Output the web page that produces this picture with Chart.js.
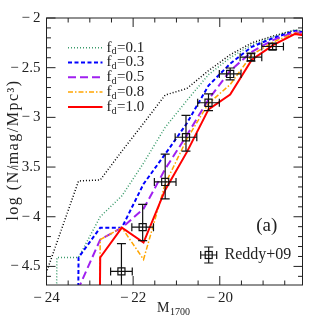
<!DOCTYPE html>
<html>
<head>
<meta charset="utf-8">
<script src="https://cdn.jsdelivr.net/npm/chart.js@4.4.0/dist/chart.umd.min.js"></script>
<style>
  html, body { margin: 0; padding: 0; background: #fff; }
  #wrap { width: 319px; height: 319px; }
</style>
</head>
<body>
<div id="wrap"><canvas id="lf" width="319" height="319"></canvas></div>
<script>
// magnitude bins of the model curves (first/last ones fall outside the frame)
const magBins = [-24.26, -23.76, -23.26, -22.76, -22.26, -21.76, -21.26, -20.76, -20.26, -19.76, -19.26, -18.76, -18.26, -17.76];

// log number density for each model; -30 = no objects in the bin
const lfIntrinsic = [-4.88, -4.26, -3.64, -3.63, -3.34, -3.06, -2.775, -2.71, -2.53, -2.37, -2.25, -2.18, -2.12, -2.17];
const lfFd01 = [-30, -4.41, -4.41, -4.00, -3.79, -3.46, -3.10, -2.83, -2.57, -2.40, -2.27, -2.19, -2.12, -2.16];
const lfFd03 = [-30, -30, -4.41, -4.11, -4.11, -3.67, -3.37, -3.06, -2.68, -2.46, -2.29, -2.20, -2.13, -2.17];
const lfFd05 = [-30, -30, -4.72, -4.23, -4.11, -3.92, -3.52, -3.18, -2.82, -2.53, -2.34, -2.22, -2.14, -2.18];
const lfFd08 = [-30, -30, -30, -4.23, -4.11, -4.43, -3.67, -3.22, -2.86, -2.67, -2.37, -2.24, -2.15, -2.19];
const lfFd10 = [-30, -30, -30, -4.41, -4.11, -4.26, -3.73, -3.35, -2.92, -2.77, -2.42, -2.27, -2.16, -2.20];

// Reddy+09 binned LF
const reddyMag = [-22.27, -21.78, -21.26, -20.78, -20.26, -19.76, -19.28, -18.78];
const reddyLogPhi = [-4.55, -4.105, -3.65, -3.20, -2.853, -2.563, -2.394, -2.287];
const reddyMagErr = [0.25, 0.25, 0.25, 0.25, 0.25, 0.25, 0.25, 0.25];
const reddyErrHi = [0.28, 0.23, 0.28, 0.22, 0.09, 0.06, 0.04, 0.03];
const reddyErrLo = [0.6, 0.135, 0.17, 0.14, 0.08, 0.06, 0.04, 0.03];

const xTicks = [-24, -22, -20];
const yTicks = [-4.5, -4, -3.5, -3, -2.5, -2];
const fdLabels = ['0.1', '0.3', '0.5', '0.8', '1.0'];

const FONT = '"Liberation Serif", "DejaVu Serif", serif';
const INK = '#222';

const pts = ys => magBins.map((m, i) => ({ x: m, y: ys[i] }));
const minus = v => (v < 0 ? '\u2212\u2009' : '') + Math.abs(v);

const model = (data, color, width, dash) => ({
  data: pts(data), showLine: true, pointRadius: 0, fill: false,
  borderColor: color, borderWidth: width, borderDash: dash, tension: 0
});

const fdSets = [
  model(lfFd01, '#3b9b6b', 1.5, [1, 2]),
  model(lfFd03, '#0000ff', 2, [4, 2.5]),
  model(lfFd05, '#a020f0', 2, [8, 4]),
  model(lfFd08, '#ffa500', 1.5, [5, 2, 1.5, 2]),
  model(lfFd10, '#ff0000', 2, [])
];

const reddySet = {
  data: reddyMag.map((m, i) => ({ x: m, y: reddyLogPhi[i] })),
  showLine: false, pointStyle: 'rect', pointRadius: 5,
  borderColor: '#111', backgroundColor: 'rgba(0,0,0,0)', borderWidth: 1.2
};

const errorBars = {
  id: 'errorBars',
  afterDatasetsDraw(chart) {
    const { ctx, chartArea: a, scales: { x, y } } = chart;
    ctx.save();
    ctx.beginPath();
    ctx.rect(a.left, a.top, a.right - a.left, a.bottom - a.top);
    ctx.clip();
    ctx.strokeStyle = '#111';
    ctx.lineWidth = 1.2;
    ctx.beginPath();
    reddyMag.forEach((m, i) => {
      const px = x.getPixelForValue(m), py = y.getPixelForValue(reddyLogPhi[i]);
      const x0 = x.getPixelForValue(m - reddyMagErr[i]), x1 = x.getPixelForValue(m + reddyMagErr[i]);
      const y0 = y.getPixelForValue(reddyLogPhi[i] + reddyErrHi[i]);
      const y1 = y.getPixelForValue(reddyLogPhi[i] - reddyErrLo[i]);
      ctx.moveTo(x0, py); ctx.lineTo(x1, py);
      ctx.moveTo(x0, py - 4); ctx.lineTo(x0, py + 4);
      ctx.moveTo(x1, py - 4); ctx.lineTo(x1, py + 4);
      ctx.moveTo(px, y0); ctx.lineTo(px, y1);
      ctx.moveTo(px - 4.5, y0); ctx.lineTo(px + 4.5, y0);
      ctx.moveTo(px - 4.5, y1); ctx.lineTo(px + 4.5, y1);
    });
    ctx.stroke();
    ctx.restore();
  }
};

// frame with inward ticks, legends and axis titles
const decor = {
  id: 'decor',
  afterDraw(chart) {
    const { ctx, chartArea: a, scales: { x, y } } = chart;
    ctx.save();
    ctx.strokeStyle = INK;
    ctx.lineWidth = 1;
    ctx.strokeRect(a.left, a.top, a.right - a.left, a.bottom - a.top);
    ctx.beginPath();
    for (let k = 0; -24 + k * 0.5 <= x.max; k++) {
      const v = -24 + k * 0.5, p = x.getPixelForValue(v);
      const len = xTicks.includes(v) ? 9 : 4.5;
      ctx.moveTo(p, a.bottom); ctx.lineTo(p, a.bottom - len);
      ctx.moveTo(p, a.top); ctx.lineTo(p, a.top + len);
    }
    for (let k = 0; k <= 26; k++) {
      const v = Math.round((-4.6 + k * 0.1) * 10) / 10, p = y.getPixelForValue(v);
      const len = Number.isInteger(v * 2) ? 9 : 4.5;
      ctx.moveTo(a.left, p); ctx.lineTo(a.left + len, p);
      ctx.moveTo(a.right, p); ctx.lineTo(a.right - len, p);
    }
    ctx.stroke();

    // f_d legend
    ctx.fillStyle = INK;
    ctx.textBaseline = 'middle';
    fdSets.forEach((ds, i) => {
      const cy = 47.7 + i * 14.8;
      ctx.save();
      ctx.strokeStyle = ds.borderColor;
      ctx.lineWidth = ds.borderWidth;
      ctx.setLineDash(ds.borderDash);
      ctx.beginPath(); ctx.moveTo(68, cy); ctx.lineTo(102.5, cy); ctx.stroke();
      ctx.restore();
      let tx = 106.5;
      ctx.font = '15px ' + FONT;
      ctx.fillText('f', tx, cy); tx += ctx.measureText('f').width;
      ctx.font = '10px ' + FONT;
      ctx.fillText('d', tx, cy + 4); tx += ctx.measureText('d').width + 0.5;
      ctx.font = '15px ' + FONT;
      ctx.fillText('=' + fdLabels[i], tx, cy);
    });

    // Reddy+09 legend symbol
    const sx = 208.7, sy = 255;
    ctx.strokeStyle = '#111';
    ctx.lineWidth = 1.2;
    ctx.strokeRect(sx - 3.5, sy - 3.5, 7, 7);
    ctx.beginPath();
    ctx.moveTo(sx - 8, sy); ctx.lineTo(sx + 8, sy);
    ctx.moveTo(sx - 8, sy - 4); ctx.lineTo(sx - 8, sy + 4);
    ctx.moveTo(sx + 8, sy - 4); ctx.lineTo(sx + 8, sy + 4);
    ctx.moveTo(sx, sy - 8); ctx.lineTo(sx, sy + 8);
    ctx.moveTo(sx - 4.5, sy - 8); ctx.lineTo(sx + 4.5, sy - 8);
    ctx.moveTo(sx - 4.5, sy + 8); ctx.lineTo(sx + 4.5, sy + 8);
    ctx.stroke();
    ctx.font = '16px ' + FONT;
    ctx.textAlign = 'left';
    ctx.fillText('Reddy+09', 224.5, 255);

    ctx.font = '19px ' + FONT;
    ctx.textAlign = 'center';
    ctx.fillText('(a)', 266.7, 226);

    // x title M_1700
    ctx.textAlign = 'left';
    ctx.font = '14px ' + FONT;
    ctx.fillText('M', 157, 308);
    const mw = ctx.measureText('M').width;
    ctx.font = '10px ' + FONT;
    ctx.fillText('1700', 157 + mw + 0.5, 312);

    // y title
    ctx.translate(14, 150);
    ctx.rotate(-Math.PI / 2);
    ctx.textAlign = 'center';
    ctx.font = '16px ' + FONT;
    ctx.letterSpacing = '1.5px';
    ctx.fillText('log (N/mag/Mpc\u00b3)', 0, 0);
    ctx.restore();
  }
};

new Chart(document.getElementById('lf'), {
  type: 'scatter',
  data: {
    datasets: [reddySet, fdSets[4], fdSets[3], fdSets[2], fdSets[1], fdSets[0],
      model(lfIntrinsic, '#000000', 1.5, [1, 2])]
  },
  options: {
    responsive: false,
    animation: false,
    devicePixelRatio: 1,
    layout: { padding: { top: 18, right: 16.5, left: 0, bottom: 0 } },
    plugins: { legend: { display: false }, tooltip: { enabled: false } },
    scales: {
      x: {
        type: 'linear', min: -24, max: -18.09,
        grid: { display: false, drawTicks: false },
        border: { display: false },
        afterBuildTicks: s => { s.ticks = xTicks.map(v => ({ value: v })); },
        afterFit: s => { s.height = 34; },
        ticks: { callback: minus, font: { family: FONT, size: 15 }, color: INK, padding: 4, maxRotation: 0 }
      },
      y: {
        type: 'linear', min: -4.687, max: -2.0,
        grid: { display: false, drawTicks: false },
        border: { display: false },
        afterBuildTicks: s => { s.ticks = yTicks.map(v => ({ value: v })); },
        afterFit: s => { s.width = 46.5; },
        ticks: { callback: minus, font: { family: FONT, size: 15 }, color: INK, padding: 6 }
      }
    }
  },
  plugins: [errorBars, decor]
});
</script>
</body>
</html>
